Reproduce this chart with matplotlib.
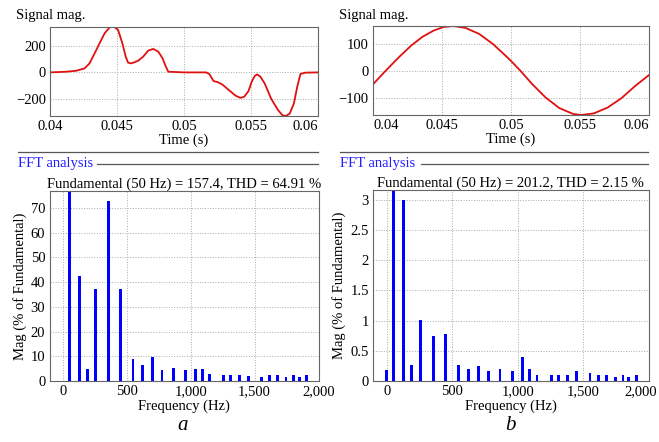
import matplotlib
matplotlib.use("Agg")
import matplotlib.pyplot as plt
from matplotlib.lines import Line2D
from matplotlib.transforms import ScaledTranslation

plt.rcParams["font.family"] = ["Liberation Serif", "DejaVu Serif"]
plt.rcParams["axes.unicode_minus"] = True

W, H = 659, 442

# ---- time signals ----
t_a = [0.0400, 0.0412, 0.04195, 0.04258, 0.04295, 0.04333, 0.0437, 0.04408,
       0.04445, 0.04475, 0.04508, 0.0454, 0.04565, 0.04583, 0.04608, 0.04658,
       0.04695, 0.04733, 0.0477, 0.04808, 0.0484, 0.04865, 0.04883, 0.0500,
       0.05165, 0.05189, 0.05221, 0.0525, 0.05286, 0.05335, 0.05383, 0.0542,
       0.05449, 0.05481, 0.05505, 0.05529, 0.05546, 0.0557, 0.05602, 0.0565,
       0.05699, 0.05735, 0.0576, 0.05789, 0.0582, 0.05845, 0.05869, 0.05905, 0.0600]
v_a = [0, 5, 12, 30, 67, 142, 217, 292,
       335, 342, 317, 217, 117, 72, 67, 87,
       117, 162, 175, 155, 105, 42, 5, 0,
       0, -12, -65, -72, -90, -132, -172, -190,
       -182, -140, -70, -25, -15, -32, -82, -195,
       -277, -320, -325, -307, -232, -107, -12, -2, 0]

t_b = [0.0400, 0.0405, 0.0409, 0.0415, 0.0420, 0.0428, 0.0436, 0.0444, 0.0451,
       0.0458, 0.0467, 0.0477, 0.0487, 0.0497, 0.0500, 0.0507, 0.0515, 0.0525,
       0.0535, 0.0545, 0.0551, 0.0560, 0.0570, 0.0580, 0.0590, 0.0600]
v_b = [-50, -22, 0, 32, 58, 97, 129, 152, 165,
       169, 162, 139, 101, 53, 38, 0, -47, -99,
       -139, -161, -165, -159, -137, -102, -56, -15]

time_ticks = [0.04, 0.045, 0.05, 0.055, 0.06]
time_labels = ["0.04", "0.045", "0.05", "0.055", "0.06"]

# ---- FFT spectra (% of fundamental) ----
freq_a = [50, 127, 192, 256, 357, 450, 549, 624, 704, 776, 865, 960, 1037,
          1091, 1148, 1257, 1313, 1379, 1450, 1553, 1617, 1679, 1745, 1805, 1850, 1906]
mag_a = [100, 42.3, 4.7, 37.2, 73.0, 37.2, 8.8, 6.5, 9.9, 4.3, 5.3, 4.3, 4.9,
         5.0, 2.8, 2.6, 2.6, 2.6, 2.2, 1.8, 2.5, 2.5, 1.7, 2.6, 1.7, 2.5]

freq_b = [0] + freq_a
mag_b = [0.18, 100, 3.0, 0.26, 1.01, 0.74, 0.78, 0.26, 0.2, 0.25, 0.17, 0.2, 0.17,
         0.4, 0.2, 0.1, 0.1, 0.1, 0.1, 0.16, 0.14, 0.1, 0.1, 0.07, 0.1, 0.07, 0.1]

title_a = "Fundamental (50 Hz) = 157.4, THD = 64.91 %"
title_b = "Fundamental (50 Hz) = 201.2, THD = 2.15 %"

freq_ticks = [0, 500, 1000, 1500, 2000]
freq_labels = ["0", "500", "1,000", "1,500", "2,000"]

FS = 10.5
fig = plt.figure(figsize=(W / 100, H / 100), dpi=100)


def box(x0, y0, x1, y1):
    return [x0 / W, 1 - y1 / H, (x1 - x0) / W, (y1 - y0) / H]


def px(x, y):
    return x / W, 1 - y / H


def shift(label, dx_px):
    label.set_transform(label.get_transform()
                        + ScaledTranslation(dx_px / 100, 0, fig.dpi_scale_trans))


def style(ax):
    for s in ax.spines.values():
        s.set_color("#666666")
        s.set_linewidth(0.8)
    ax.grid(True, linestyle=":", color="#aaaaaa", linewidth=0.7)
    ax.tick_params(length=0, labelsize=FS, pad=3)
    ax.set_axisbelow(True)


def signal_panel(rect, t, v, yticks, xl, left_first=False):
    ax = fig.add_axes(box(*rect))
    ax.plot(t, v, color="#e01010", linewidth=1.3)
    ax.set_xlim(0.04, 0.06)
    ax.set_ylim(min(v), max(v))
    ax.set_xticks(time_ticks)
    ax.set_xticklabels(time_labels)
    ax.set_yticks(yticks)
    ax.set_yticklabels([str(y).replace("-", "\u2212") for y in yticks])
    ax.set_xlabel("Time (s)", fontsize=FS, labelpad=0)
    style(ax)
    labels = ax.get_xticklabels()
    labels[-1].set_ha("right")
    if left_first:
        labels[0].set_ha("left")
    fig.text(*px(xl, 15), "Signal mag.", fontsize=FS, va="center", ha="left")
    return ax


def fft_panel(rect, f, m, yticks, ylabels, title, last_dx=0):
    ax = fig.add_axes(box(*rect))
    ax.bar(f, m, width=22, color="#0000ff", zorder=3)
    ax.set_xlim(-105, 2000)
    ax.set_ylim(0, 1.05 * max(x for x in m if x < 100))
    ax.set_xticks(freq_ticks)
    ax.set_xticklabels(freq_labels)
    ax.set_yticks(yticks)
    ax.set_yticklabels(ylabels)
    ax.set_xlabel("Frequency (Hz)", fontsize=FS, labelpad=1)
    ax.set_ylabel("Mag (% of Fundamental)", fontsize=FS, labelpad=3)
    ax.set_title(title, fontsize=FS, pad=3)
    style(ax)
    if last_dx:
        shift(ax.get_xticklabels()[-1], last_dx)
    return ax


signal_panel((50, 26.5, 318, 116), t_a, v_a, [-200, 0, 200], 16)
signal_panel((373, 26, 649, 115), t_b, v_b, [-100, 0, 100], 339, left_first=True)

fft_panel((49.5, 191.5, 318.5, 381), freq_a, mag_a,
          list(range(0, 80, 10)), [str(y) for y in range(0, 80, 10)], title_a)
fft_panel((373, 190.5, 648.5, 381), freq_b, mag_b,
          [0, 0.5, 1, 1.5, 2, 2.5, 3], ["0", "0.5", "1", "1.5", "2", "2.5", "3"], title_b,
          last_dx=-8)

# separators and "FFT analysis" headers
for x0, x1, xt, xl in [(18, 318, 18, 97), (340, 648, 340, 421)]:
    fig.add_artist(Line2D([x0 / W, x1 / W], [1 - 151.5 / H] * 2, color="#555555", linewidth=0.9))
    fig.add_artist(Line2D([xl / W, x1 / W], [1 - 164 / H] * 2, color="#555555", linewidth=0.9))
    fig.text(*px(xt, 164), "FFT analysis", fontsize=FS, color="#2020ff", va="center", ha="left")

fig.text(*px(183, 425), "a", fontsize=15, style="italic", ha="center", va="center")
fig.text(*px(510, 425), "b", fontsize=15, style="italic", ha="center", va="center")

fig.savefig("out.png", dpi=100)
